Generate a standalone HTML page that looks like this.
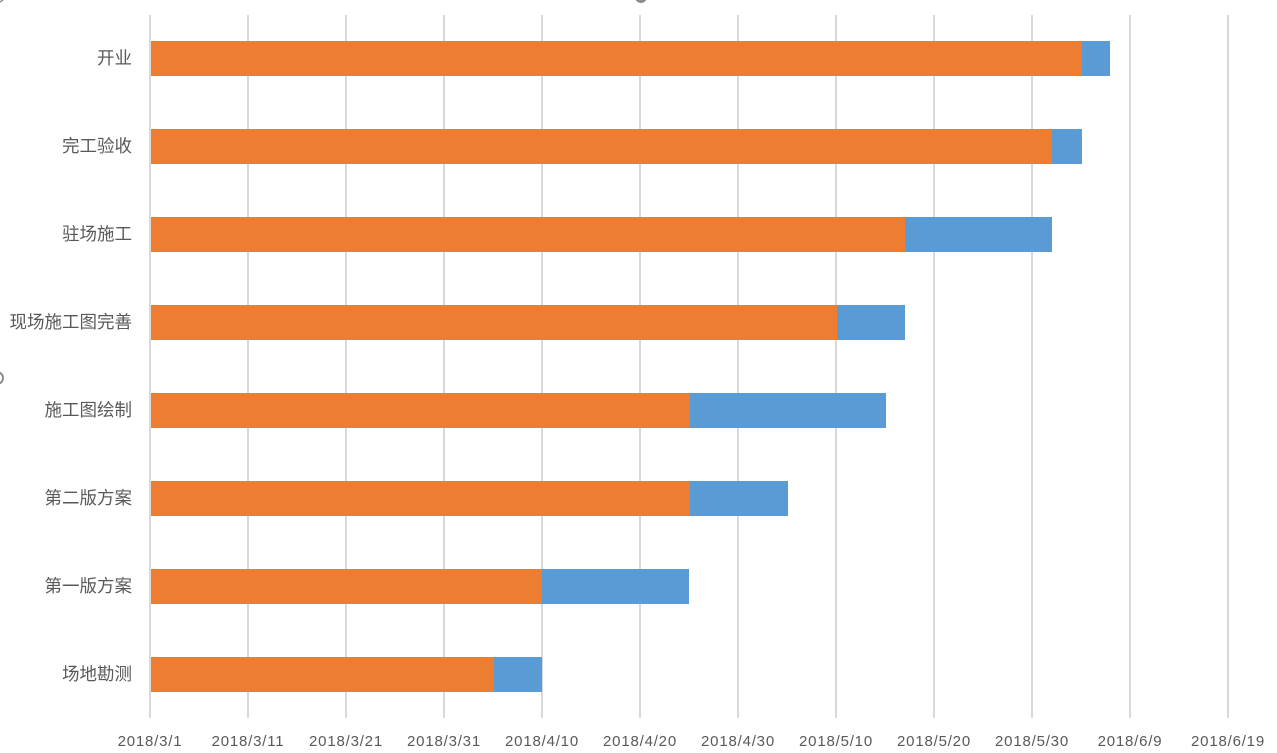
<!DOCTYPE html>
<html><head><meta charset="utf-8"><style>
body{margin:0;background:#fff;}
svg{display:block;}
text{font-family:"Liberation Sans","Noto Sans CJK SC",sans-serif;fill:#595959;}
</style></head><body>
<svg width="1277" height="753" xmlns="http://www.w3.org/2000/svg">
<circle cx="641" cy="-3" r="6" fill="#8c8c8c"/>
<circle cx="-3" cy="378" r="6" fill="none" stroke="#8c8c8c" stroke-width="2"/>
<path d="M0,2 L3,0" stroke="#8c8c8c" stroke-width="1.5"/>
<g stroke="#d9d9d9" stroke-width="2">
<line x1="150" y1="15" x2="150" y2="718"/><line x1="248" y1="15" x2="248" y2="718"/>
<line x1="346" y1="15" x2="346" y2="718"/><line x1="444" y1="15" x2="444" y2="718"/>
<line x1="542" y1="15" x2="542" y2="718"/><line x1="640" y1="15" x2="640" y2="718"/>
<line x1="738" y1="15" x2="738" y2="718"/><line x1="836" y1="15" x2="836" y2="718"/>
<line x1="934" y1="15" x2="934" y2="718"/><line x1="1032" y1="15" x2="1032" y2="718"/>
<line x1="1130" y1="15" x2="1130" y2="718"/><line x1="1228" y1="15" x2="1228" y2="718"/>
</g>
<g>
<rect x="151" y="41" width="931" height="35" fill="#ed7d31"/><rect x="1082" y="41" width="28" height="35" fill="#5b9bd5"/>
<rect x="151" y="129" width="901" height="35" fill="#ed7d31"/><rect x="1052" y="129" width="30" height="35" fill="#5b9bd5"/>
<rect x="151" y="217" width="754" height="35" fill="#ed7d31"/><rect x="905" y="217" width="147" height="35" fill="#5b9bd5"/>
<rect x="151" y="305" width="686" height="35" fill="#ed7d31"/><rect x="837" y="305" width="68" height="35" fill="#5b9bd5"/>
<rect x="151" y="393" width="539" height="35" fill="#ed7d31"/><rect x="690" y="393" width="196" height="35" fill="#5b9bd5"/>
<rect x="151" y="481" width="539" height="35" fill="#ed7d31"/><rect x="690" y="481" width="98" height="35" fill="#5b9bd5"/>
<rect x="151" y="569" width="391" height="35" fill="#ed7d31"/><rect x="542" y="569" width="147" height="35" fill="#5b9bd5"/>
<rect x="151" y="657" width="343" height="35" fill="#ed7d31"/><rect x="494" y="657" width="48" height="35" fill="#5b9bd5"/>
</g>
<g font-size="17.5" text-anchor="end">
<text x="132" y="64">开业</text>
<text x="132" y="152">完工验收</text>
<text x="132" y="240">驻场施工</text>
<text x="132" y="328">现场施工图完善</text>
<text x="132" y="416">施工图绘制</text>
<text x="132" y="504">第二版方案</text>
<text x="132" y="592">第一版方案</text>
<text x="132" y="680">场地勘测</text>
</g>
<g font-size="15" text-anchor="middle" letter-spacing="0.8">
<text x="150" y="746">2018/3/1</text><text x="248" y="746">2018/3/11</text>
<text x="346" y="746">2018/3/21</text><text x="444" y="746">2018/3/31</text>
<text x="542" y="746">2018/4/10</text><text x="640" y="746">2018/4/20</text>
<text x="738" y="746">2018/4/30</text><text x="836" y="746">2018/5/10</text>
<text x="934" y="746">2018/5/20</text><text x="1032" y="746">2018/5/30</text>
<text x="1130" y="746">2018/6/9</text><text x="1228" y="746">2018/6/19</text>
</g>
</svg>
</body></html>
